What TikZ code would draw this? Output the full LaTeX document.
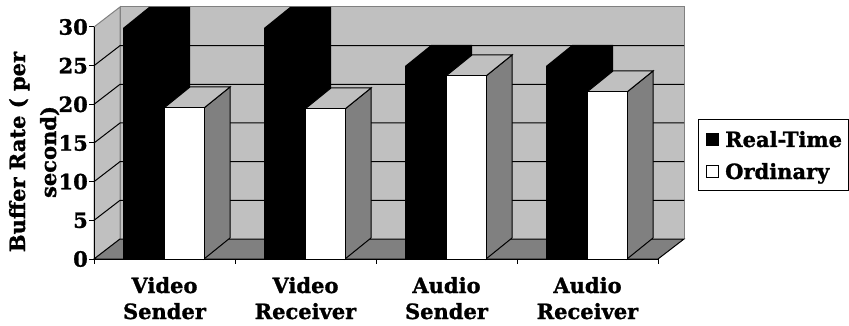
\documentclass[tikz,border=0pt]{standalone}
\usepackage{fontspec}
\setmainfont{DejaVu Serif}[BoldFeatures={FakeBold=1.2}]
\definecolor{wallgray}{HTML}{C0C0C0}
\definecolor{darkgray}{HTML}{808080}
\begin{document}
\begin{tikzpicture}[x=1pt,y=-1pt,
  lbl/.style={font=\fontsize{21}{26}\selectfont\bfseries, inner sep=0pt},
  wallline/.style={draw=darkgray, line width=1pt},
  gridline/.style={draw=black, line width=1pt},
  barline/.style={draw=black, line width=1pt, line join=miter},
  mark box/.style={draw=black, line width=0.8pt, minimum size=12pt, inner sep=0pt}]
\useasboundingbox (0,0) rectangle (849,326);
% back wall
\fill[wallgray] (120,7) rectangle (684,239);
\draw[wallline] (120,239) -- (120,7) -- (684,7) -- (684,239);
% left wall
\filldraw[fill=wallgray, wallline] (94,259) -- (94,27) -- (120,7) -- (120,239) -- cycle;
% floor
\filldraw[fill=darkgray, draw=black, line width=1pt] (94,259) -- (658,259) -- (684,239) -- (120,239) -- cycle;
% grid lines
\foreach \k in {1,...,5} {
  \draw[gridline] (94,{259-38.667*\k}) -- (120,{239-38.667*\k}) -- (684,{239-38.667*\k});
}
% bars
\foreach \t/\h/\w in {94/28/108, 235/28/109, 376/66/76, 517/66/92} {
  \fill[black] ({\t+29},259) -- ({\t+29},\h) -- ({\t+55},{\h-21}) -- ({\t+96},{\h-21}) -- ({\t+96},238) -- ({\t+70},259) -- cycle;
  \filldraw[fill=darkgray, barline] ({\t+110},\w) -- ({\t+136},{\w-21}) -- ({\t+136},238) -- ({\t+110},259) -- cycle;
  \filldraw[fill=wallgray, barline] ({\t+70},\w) -- ({\t+110},\w) -- ({\t+136},{\w-21}) -- ({\t+96},{\w-21}) -- cycle;
  \filldraw[fill=white, barline] ({\t+70},259) rectangle ({\t+110},\w);
}
% axes
\draw[black, line width=1pt] (94,27) -- (94,259) -- (658,259);
\foreach \k in {0,...,6} {
  \draw[black, line width=1pt] (89,{259-38.667*\k}) -- (94,{259-38.667*\k});
}
\foreach \k in {0,...,4} {
  \draw[black, line width=1pt] ({94+141*\k},259) -- ({94+141*\k},264);
}
% tick labels
\foreach \k/\v in {0/0,1/5,2/10,3/15,4/20,5/25,6/30} {
  \node[lbl, anchor=east] (yt\k) at (88,{259-38.667*\k}) {\v};
}
% category labels
\node[lbl, anchor=base] (c1a) at (164.5,293) {Video};
\node[lbl, anchor=base] (c1b) at (164.5,319) {Sender};
\node[lbl, anchor=base] (c2a) at (305.5,293) {Video};
\node[lbl, anchor=base] (c2b) at (305.5,319) {Receiver};
\node[lbl, anchor=base] (c3a) at (446.5,293) {Audio};
\node[lbl, anchor=base] (c3b) at (446.5,319) {Sender};
\node[lbl, anchor=base] (c4a) at (587.5,293) {Audio};
\node[lbl, anchor=base] (c4b) at (587.5,319) {Receiver};
% axis title
\node[lbl, rotate=90, anchor=base] (yti1) at (25,152) {Buffer Rate ( per};
\node[lbl, rotate=90, anchor=base] (yti2) at (56,152) {second)};
% legend
\draw[black, line width=1pt] (698,120) rectangle (848.5,190);
\node[mark box, fill=black] (mk1) at (712,139.5) {};
\node[mark box, fill=white] (mk2) at (712,171.5) {};
\node[lbl, anchor=base west] (lg1) at (725,147) {Real-Time};
\node[lbl, anchor=base west] (lg2) at (725,179) {Ordinary};
\end{tikzpicture}
\end{document}
